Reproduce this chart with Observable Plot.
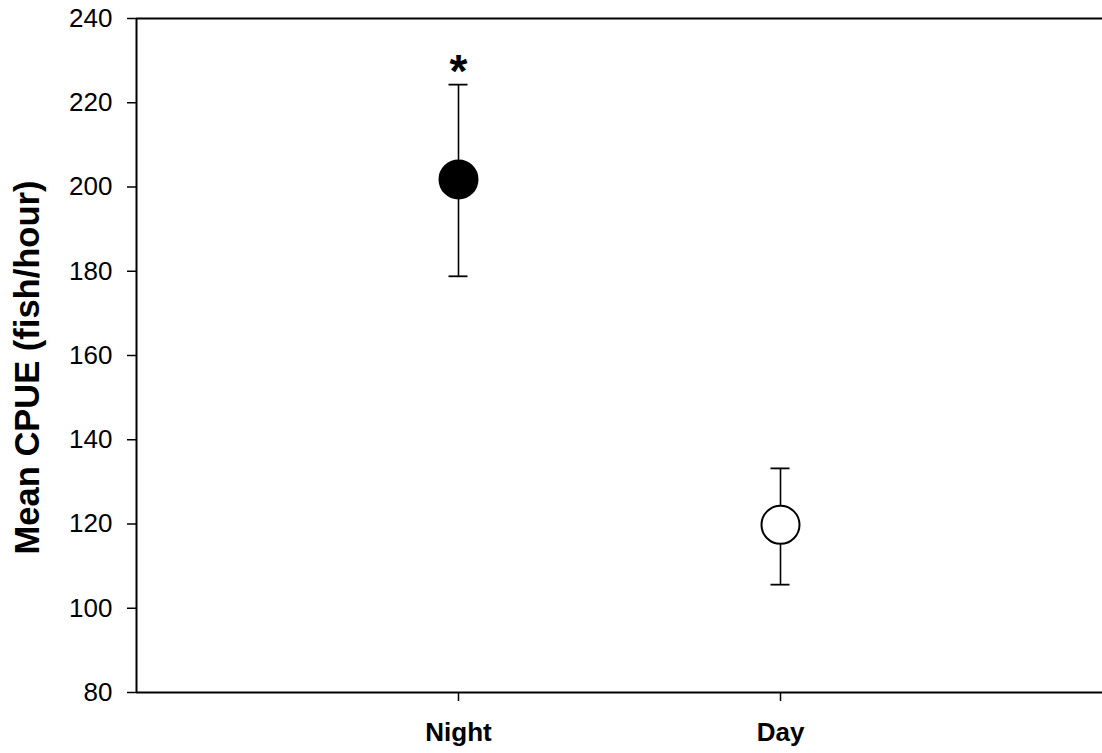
<!DOCTYPE html>
<html>
<head>
<meta charset="utf-8">
<script src="https://cdn.jsdelivr.net/npm/d3@7"></script>
<script src="https://cdn.jsdelivr.net/npm/@observablehq/plot@0.6"></script>
<style>
  html, body { margin: 0; padding: 0; background: #fff; overflow: hidden; }
  #chart svg { display: block; }
</style>
</head>
<body>
<div id="chart"></div>
<script>
// Mean catch per unit effort by diel period, with error bars
const periods = ["Night", "Day"];
const meanCPUE = [201.8, 119.8];
const upper = [224.3, 133.2];
const lower = [178.8, 105.6];
const fills = ["black", "white"];
const markers = ["*", ""];
const yTicks = [80, 100, 120, 140, 160, 180, 200, 220, 240];
const yLabel = "Mean CPUE (fish/hour)";

// periods sit at positions 1 and 2 on a 0–3 axis
const rows = periods.map((p, i) => ({
  period: p,
  pos: i + 1,
  mean: meanCPUE[i],
  hi: upper[i],
  lo: lower[i],
  fill: fills[i],
  marker: markers[i]
}));

const font = "'Liberation Sans', Arial, Helvetica, sans-serif";

const chart = Plot.plot({
  width: 1102,
  height: 753,
  marginTop: 18,
  marginBottom: 61,
  marginLeft: 136,
  marginRight: 0,
  style: { fontFamily: font, background: "white", color: "black" },
  x: { domain: [0, 3], axis: null },
  y: { domain: [80, 240], axis: null },
  marks: [
    // frame: left axis, bottom axis and top border
    Plot.ruleX([0], { stroke: "black", strokeWidth: 2 }),
    Plot.ruleY([80], { stroke: "black", strokeWidth: 2 }),
    Plot.ruleY([240], { stroke: "black", strokeWidth: 2 }),
    Plot.axisY({
      ticks: yTicks,
      tickSize: 9,
      tickPadding: 15,
      fontSize: 26,
      strokeWidth: 1.5,
      label: null
    }),
    Plot.axisX({
      ticks: rows.map(d => d.pos),
      tickFormat: v => periods[v - 1],
      tickSize: 9,
      tickPadding: 21,
      fontSize: 26,
      fontWeight: "bold",
      strokeWidth: 1.5,
      label: null
    }),
    // error bars with caps
    Plot.ruleX(rows, { x: "pos", y1: "lo", y2: "hi", stroke: "black", strokeWidth: 1.6 }),
    Plot.ruleY(rows, { y: "hi", x1: "pos", x2: "pos", insetLeft: -9.5, insetRight: -9.5, stroke: "black", strokeWidth: 1.8 }),
    Plot.ruleY(rows, { y: "lo", x1: "pos", x2: "pos", insetLeft: -9.5, insetRight: -9.5, stroke: "black", strokeWidth: 1.8 }),
    // means
    Plot.dot(rows, { x: "pos", y: "mean", r: 19, fill: d => d.fill, stroke: "black", strokeWidth: 2 }),
    // significance marker above the upper error bar
    Plot.text(rows, {
      x: "pos",
      y: "hi",
      text: "marker",
      fontSize: 46,
      fontWeight: "bold",
      lineAnchor: "middle",
      dy: -12,
      fill: "black"
    }),
    // y-axis title
    Plot.text([yLabel], {
      frameAnchor: "left",
      rotate: -90,
      dx: -109,
      dy: 12,
      fontSize: 34.5,
      fontWeight: "bold",
      textAnchor: "middle",
      lineAnchor: "middle",
      fill: "black"
    })
  ]
});

document.getElementById("chart").appendChild(chart);
</script>
</body>
</html>
